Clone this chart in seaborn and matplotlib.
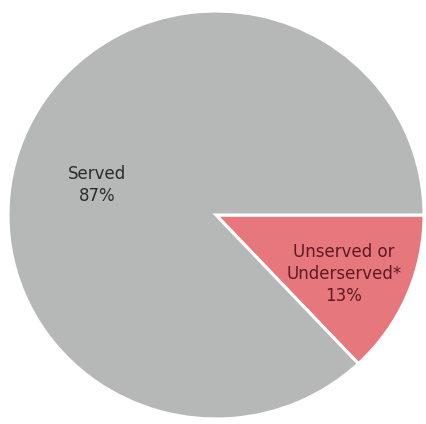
"""Share of locations served vs unserved/underserved."""

import matplotlib
matplotlib.use("Agg")
import matplotlib.pyplot as plt
import seaborn as sns

labels = ["Unserved or\nUnderserved*", "Served"]
shares = [13, 87]
slice_colors = ["#e6787d", "#b5b8b7"]
text_colors = ["#5e1a20", "#2b2b2b"]

sns.set_theme(style="white")
plt.rcParams["font.family"] = ["DejaVu Sans"]

fig = plt.figure(figsize=(4.26, 4.24), dpi=100)
ax = fig.add_axes([0, 0, 1, 1])

wedges, texts = ax.pie(
    shares,
    colors=sns.color_palette(slice_colors),
    startangle=0,
    counterclock=False,
    radius=1.0,
    labels=[f"{lab}\n{val}%" for lab, val in zip(labels, shares)],
    labeldistance=0.66,
    wedgeprops={"edgecolor": "white", "linewidth": 2.2},
    textprops={"fontsize": 12, "ha": "center", "va": "center",
               "multialignment": "center", "linespacing": 1.3},
)
for t, c in zip(texts, text_colors):
    t.set_color(c)
    t.set_horizontalalignment("center")
# label placement tuned to the source picture
texts[0].set_position((0.615, -0.29))
texts[1].set_position((-0.572, 0.147))

# pie is slightly squashed vertically and clipped on the right in the source
ax.set_xlim(-1.0385, 1.0096)
ax.set_ylim(-1.0245, 1.054)
ax.set_aspect("auto")
ax.axis("off")

fig.savefig("out.png", dpi=100, facecolor="white")
